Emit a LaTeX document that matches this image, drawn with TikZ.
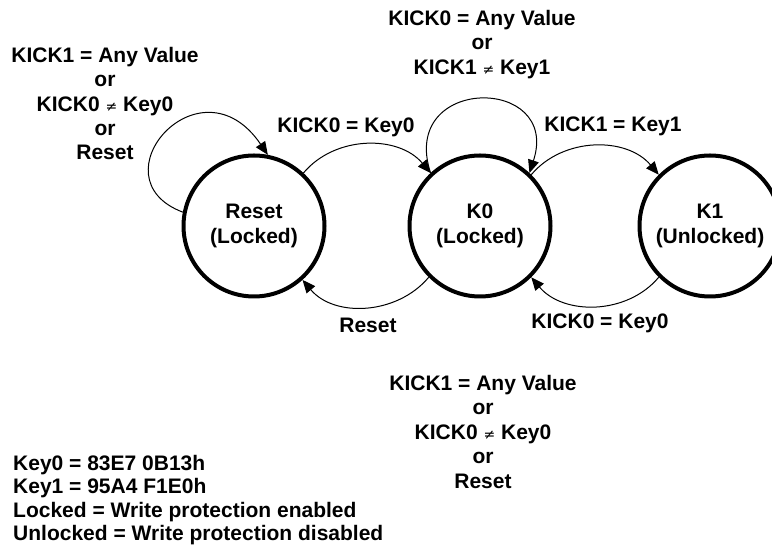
\documentclass[tikz,border=0pt]{standalone}
\usepackage{fontspec}
\setmainfont{Liberation Sans}
\newfontfamily\symfont{DejaVu Sans}
\usetikzlibrary{arrows.meta}

\newcommand{\kneq}{{\symfont\mdseries\fontsize{14}{14}\selectfont ≠}}

\begin{document}
\begin{tikzpicture}[x=1pt, y=1pt,
    font=\fontsize{21}{24.5}\selectfont\bfseries,
    state/.style={circle, draw, line width=4pt, minimum size=141pt, inner sep=0pt, align=center},
    trans/.style={-{Triangle[length=13pt, width=11pt]}, line width=1pt},
    lbl/.style={align=center, inner sep=0pt}]
        \useasboundingbox (0,0) rectangle (772,546);
        % States
        \node[state] (reset) at (254,320) {Reset\\(Locked)};
        \node[state] (k0) at (480,320) {K0\\(Locked)};
        \node[state] (k1) at (710,320) {K1\\(Unlocked)};
        % Transitions
        \draw[trans] (reset.47) to[out=50, in=130] (k0.133);
        \draw[trans] (k0.225) to[out=230, in=310] (reset.-48);
        \draw[trans] (k0.45) to[out=50, in=130] (k1.135);
        \draw[trans] (k1.225) to[out=230, in=310] (k0.-45);
        \draw[trans] (reset.169) .. controls +(-90,34) and +(-68,100) .. (reset.79);
        \draw[trans] (k0.133) .. controls +(-32,98) and +(32,98) .. (k0.47);
        % Labels
        \node[lbl] (lreset) at (105,442.5) {KICK1 = Any Value\\or\\KICK0 \kneq{} Key0\\or\\Reset};
        \node[lbl] (lk0) at (482,501.5) {KICK0 = Any Value\\or\\KICK1 \kneq{} Key1};
        \node[lbl] (lrk0) at (346,419) {KICK0 = Key0};
        \node[lbl] (lk0r) at (368,221) {Reset};
        \node[lbl] (lk0k1) at (613,420) {KICK1 = Key1};
        \node[lbl] (lk1k0) at (600,223) {KICK0 = Key0};
        \node[lbl] (lk1) at (483,114.5) {KICK1 = Any Value\\or\\KICK0 \kneq{} Key0\\or\\Reset};
        % Legend
        \node[lbl, align=left, anchor=west, font=\fontsize{21}{23.5}\selectfont\bfseries] (legend) at (13,46)
          {Key0 = 83E7 0B13h\\Key1 = 95A4 F1E0h\\Locked = Write protection enabled\\Unlocked = Write protection disabled};
      \end{tikzpicture}
\end{document}
